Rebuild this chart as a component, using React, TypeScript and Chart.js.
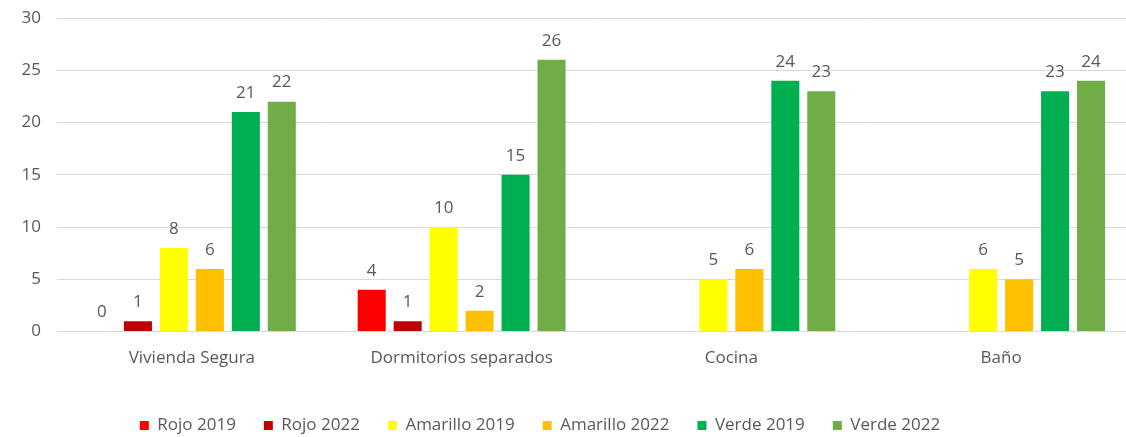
import React, { useEffect, useRef } from "react";
import { Chart, registerables } from "chart.js";

Chart.register(...registerables);

const categories = ["Vivienda Segura", "Dormitorios separados", "Cocina", "Baño"];
const seriesNames = ["Rojo 2019", "Rojo 2022", "Amarillo 2019", "Amarillo 2022", "Verde 2019", "Verde 2022"];
const rojo2019: (number | null)[] = [0, 4, null, null];
const rojo2022: (number | null)[] = [1, 1, null, null];
const amarillo2019: (number | null)[] = [8, 10, 5, 6];
const amarillo2022: (number | null)[] = [6, 2, 6, 5];
const verde2019: (number | null)[] = [21, 15, 24, 23];
const verde2022: (number | null)[] = [22, 26, 23, 24];
const yTicks = [0, 5, 10, 15, 20, 25, 30];

const colors = ["#FF0000", "#C00000", "#FFFF00", "#FFC000", "#00B050", "#70AD47"];
const FONT = "'Open Sans', Lato, sans-serif";
const TEXT = "#595959";

const labelPlugin = {
  id: "valueLabels",
  afterDatasetsDraw(chart: any) {
    const ctx = chart.ctx;
    ctx.save();
    ctx.font = `17px ${FONT}`;
    ctx.fillStyle = TEXT;
    ctx.textAlign = "center";
    ctx.textBaseline = "middle";
    chart.data.datasets.forEach((ds: any, i: number) => {
      const meta = chart.getDatasetMeta(i);
      meta.data.forEach((el: any, j: number) => {
        const v = ds.data[j];
        if (v === null || v === undefined) return;
        ctx.fillText(String(v), el.x, el.y - 19);
      });
    });
    ctx.restore();
  },
};

const legendShift = {
  id: "legendShift",
  afterLayout(chart: any) {
    if (chart.legend) {
      chart.legend.left -= 28;
      chart.legend.right -= 28;
      chart.legend.top += 7;
      chart.legend.bottom += 7;
    }
  },
};

export default function App() {
  const ref = useRef<HTMLCanvasElement>(null);
  useEffect(() => {
    if (!ref.current) return;
    const all = [rojo2019, rojo2022, amarillo2019, amarillo2022, verde2019, verde2022];
    const chart = new Chart(ref.current, {
      type: "bar",
      data: {
        labels: categories,
        datasets: all.map((d, i) => ({
          label: seriesNames[i],
          data: d,
          backgroundColor: colors[i],
          borderWidth: 0,
          categoryPercentage: 0.8,
          barPercentage: 0.78,
        })),
      },
      options: {
        animation: false,
        responsive: false,
        layout: { padding: { top: 18, bottom: 0, left: 0, right: 0 } },
        plugins: {
          legend: {
            position: "bottom",
            labels: {
              boxWidth: 9,
              boxHeight: 9,
              padding: 28,
              color: TEXT,
              font: { family: FONT, size: 17 },
            },
          },
          tooltip: { enabled: false },
        },
        scales: {
          x: {
            grid: { display: false, drawTicks: false },
            border: { display: false },
            ticks: { color: TEXT, font: { family: FONT, size: 17 }, padding: 16 },
            afterFit(scale: any) {
              scale.height -= 2;
            },
          },
          y: {
            min: 0,
            max: 30,
            afterBuildTicks(scale: any) {
              scale.ticks = yTicks.map((v) => ({ value: v }));
            },
            grid: { color: "#D9D9D9", lineWidth: 1, drawTicks: false },
            border: { display: false },
            ticks: { color: TEXT, font: { family: FONT, size: 17 }, padding: 16 },
            afterFit(scale: any) {
              scale.width = 57;
              scale.paddingTop = 0;
              scale.paddingBottom = 0;
            },
          },
        },
      },
      plugins: [labelPlugin, legendShift],
    });
    return () => chart.destroy();
  }, []);
  return (
    <div style={{ position: "fixed", left: 0, top: 0, width: 1126, height: 437, overflow: "hidden", background: "#fff" }}>
      <canvas ref={ref} width={1136} height={437} style={{ display: "block" }} />
    </div>
  );
}
